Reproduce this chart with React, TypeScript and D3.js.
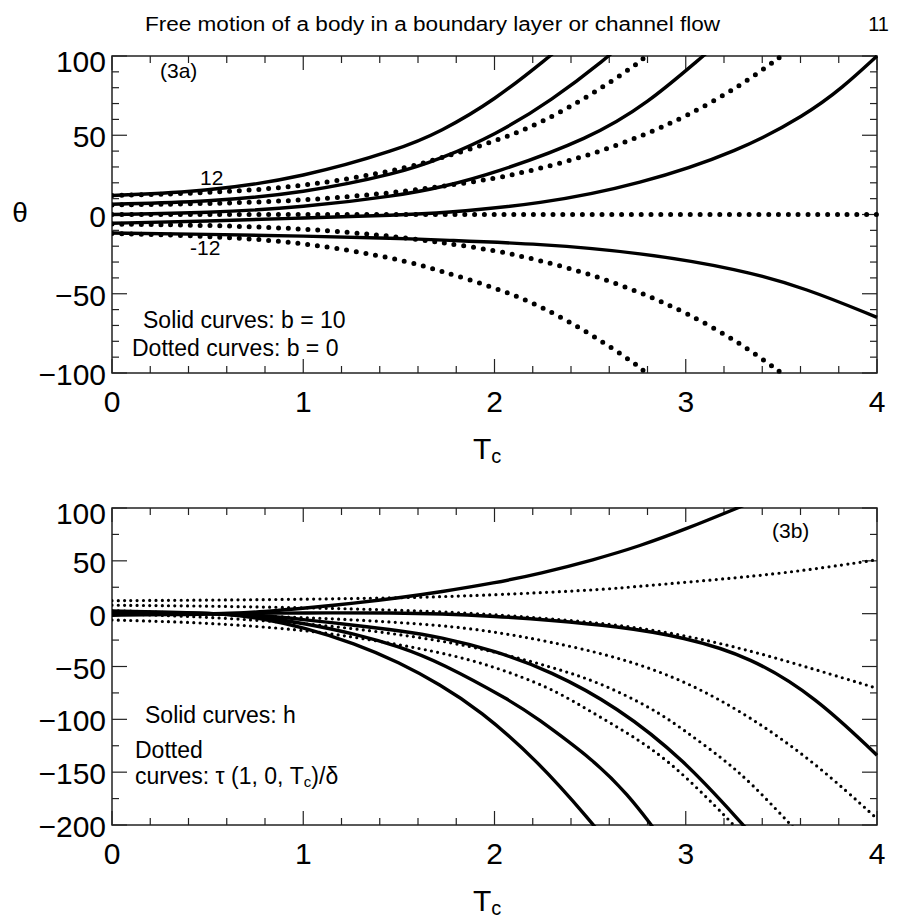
import React from "react";
import * as d3 from "d3";

// page geometry (reference is 911 x 918)
const W = 911;
const H = 918;
const LEFT = 112;
const RIGHT = 877;
const FONT = "'Liberation Sans', Arial, Helvetica, sans-serif";

// shared x axis (T_c)
const xDomain = [0, 4];
const xMajorTicks = [0, 1, 2, 3, 4];
const xTickLabels = ["0", "1", "2", "3", "4"];

// ---- panel (3a): theta vs Tc, solid b = 10, dotted b = 0 ----
const yDomainA = [-100, 100];
const yMajorA = [100, 50, 0, -50, -100];
const yLabelsA = ["100", "50", "0", "\u221250", "\u2212100"];

const solidA_p12 = [[0, 12], [0.5, 14.5], [1, 23.5], [1.5, 41], [1.715, 52], [2, 72], [2.29, 100], [2.35, 106]];
const solidA_p6 = [[0, 6.5], [0.5, 8], [1, 13.5], [1.5, 26], [1.715, 35], [2, 50], [2.3, 72], [2.6, 100], [2.65, 106]];
const solidA_0 = [[0, 0], [0.5, 1], [1, 4.5], [1.5, 12], [1.715, 17], [2, 26], [2.5, 48], [2.8, 70], [3.09, 100], [3.15, 106]];
const solidA_m6 = [[0, -5.5], [0.5, -4.2], [1, -2.2], [1.5, -0.3], [1.715, 0.8], [2.24, 6.5], [2.76, 19], [3.28, 40], [3.63, 63], [3.82, 80], [4, 100]];
const solidA_m12 = [[0, -11.7], [0.5, -12.5], [1, -13.6], [1.5, -15], [1.715, -16.1], [2.24, -18.5], [2.76, -24], [3.28, -34.5], [3.63, -46.6], [4, -64.9]];

const dotA_p12 = [[0, 12], [0.5, 13.5], [1, 17.5], [1.5, 28], [1.715, 35.5], [2, 46], [2.24, 57.5], [2.5, 75], [2.76, 96], [2.8, 101]];
const dotA_p6 = [[0, 6], [0.5, 6.8], [1, 8.7], [1.5, 14], [1.715, 17.6], [2, 22.5], [2.24, 29], [2.5, 37.5], [2.76, 49], [3, 61.7], [3.28, 80.6], [3.5, 100]];
const dotA_0 = [[0, 0], [1, 0], [2, 0], [3, 0], [4, 0]];
const dotA_m6 = [[0, -6], [0.5, -6.8], [1, -8.7], [1.5, -14], [1.715, -17.6], [2, -22.5], [2.24, -29], [2.5, -37.5], [2.76, -49], [3, -61.7], [3.28, -80.6], [3.5, -100]];
const dotA_m12 = [[0, -12], [0.5, -13.5], [1, -17.5], [1.5, -28], [1.715, -35.5], [2, -46], [2.24, -57.5], [2.5, -75], [2.76, -96], [2.8, -101]];

// ---- panel (3b): solid h, dotted tau(1,0,Tc)/delta ----
const yDomainB = [-200, 100];
const yMajorB = [100, 50, 0, -50, -100, -150, -200];
const yLabelsB = ["100", "50", "0", "\u221250", "\u2212100", "\u2212150", "\u2212200"];

const solidB_1 = [[0, -1.5], [0.3, -1], [0.6, 0], [0.8, 2], [1, 5], [1.27, 10], [1.5, 15], [1.715, 20.5], [2, 29], [2.24, 38], [2.52, 51], [2.76, 64], [3, 80], [3.27, 100], [3.35, 106]];
const solidB_2 = [[0, -0.5], [0.6, 0], [1, 0.8], [1.5, 0.8], [1.715, 0], [2, -2.5], [2.29, -6], [2.64, -12], [2.99, -22], [3.34, -41], [3.68, -79], [4, -134]];
const solidB_3 = [[0, 0.5], [0.3, 0.5], [0.6, 0], [0.8, -2], [1, -5.5], [1.27, -11], [1.5, -16], [1.715, -22], [2, -35], [2.29, -54], [2.64, -88], [2.99, -138], [3.3, -200], [3.35, -210]];
const solidB_4 = [[0, 1.5], [0.3, 1], [0.6, 0], [0.8, -3.5], [1, -9], [1.27, -19], [1.5, -31], [1.715, -46], [2.1, -84], [2.2, -96], [2.53, -140], [2.7, -172], [2.82, -200], [2.86, -210]];
const solidB_5 = [[0, 2.5], [0.3, 1.5], [0.6, 0], [0.8, -5], [1, -13], [1.27, -28], [1.5, -46], [1.715, -67], [1.92, -91], [2.22, -138], [2.52, -200], [2.56, -210]];

const dotB_1 = [[0, 12.3], [0.5, 12.8], [1, 13.6], [1.5, 15], [1.715, 16], [2, 17.8], [2.55, 22.5], [2.76, 26], [3.28, 34], [3.63, 41], [4, 51]];
const dotB_2 = [[0, 8], [0.5, 7.2], [0.98, 5.7], [1.27, 4.5], [1.715, 2], [2, -1], [2.29, -4.7], [2.64, -10.4], [2.99, -20], [3.34, -35], [3.68, -53], [4, -70.6]];
const dotB_3 = [[0, 3], [0.5, -0.5], [0.98, -3.5], [1.27, -5.8], [1.715, -10.7], [2, -17], [2.29, -26.5], [2.64, -40.7], [2.99, -62.7], [3.34, -97.5], [3.68, -141.6], [4, -194]];
const dotB_4 = [[0, 0], [0.5, -3], [0.98, -9], [1.27, -14], [1.715, -25], [2, -36], [2.29, -50], [2.55, -65], [2.83, -90], [2.99, -110], [3.2, -138], [3.34, -160], [3.53, -196], [3.56, -202]];
const dotB_5 = [[0, -6], [0.5, -8.5], [0.98, -15], [1.27, -22], [1.715, -36], [2, -50], [2.29, -70], [2.46, -88], [2.64, -107], [2.81, -126], [2.99, -152], [3.23, -196], [3.25, -200]];

function Panel(props) {
  const { id, top, bottom, yDomain, yMajor, yLabels, yMinorStep, solids, dots, dotW, dotGap } = props;
  const x = d3.scaleLinear().domain(xDomain).range([LEFT, RIGHT]);
  const y = d3.scaleLinear().domain(yDomain).range([bottom, top]);
  // basis spline smooths out the small jitter of the hand-read points
  const line = d3.line().x((d) => x(d[0])).y((d) => y(d[1])).curve(d3.curveBasis);

  const xMinor = d3.range(xDomain[0], xDomain[1] + 1e-9, 0.2).filter((v) => Math.abs(v - Math.round(v)) > 1e-6);
  const yMinor = d3.range(yDomain[0], yDomain[1] + 1e-9, yMinorStep).filter((v) => Math.abs(v % 50) > 1e-6);
  const tick = { stroke: "#222", strokeWidth: 1.2 };

  return (
    <g>
      <defs>
        <clipPath id={id}>
          <rect x={LEFT} y={top - 1} width={RIGHT - LEFT + 2} height={bottom - top + 2} />
        </clipPath>
      </defs>
      {/* inward ticks on all four sides */}
      {xMajorTicks.map((v) => (
        <g key={"xm" + v}>
          <line x1={x(v)} x2={x(v)} y1={bottom} y2={bottom - 14} {...tick} />
          <line x1={x(v)} x2={x(v)} y1={top} y2={top + 14} {...tick} />
        </g>
      ))}
      {xMinor.map((v) => (
        <g key={"xn" + v}>
          <line x1={x(v)} x2={x(v)} y1={bottom} y2={bottom - 7} {...tick} />
          <line x1={x(v)} x2={x(v)} y1={top} y2={top + 7} {...tick} />
        </g>
      ))}
      {yMajor.map((v) => (
        <g key={"ym" + v}>
          <line x1={LEFT} x2={LEFT + 15} y1={y(v)} y2={y(v)} {...tick} />
          <line x1={RIGHT} x2={RIGHT - 15} y1={y(v)} y2={y(v)} {...tick} />
        </g>
      ))}
      {yMinor.map((v) => (
        <g key={"yn" + v}>
          <line x1={LEFT} x2={LEFT + 7} y1={y(v)} y2={y(v)} {...tick} />
          <line x1={RIGHT} x2={RIGHT - 7} y1={y(v)} y2={y(v)} {...tick} />
        </g>
      ))}
      <rect x={LEFT} y={top} width={RIGHT - LEFT} height={bottom - top} fill="none" stroke="#222" strokeWidth={1.5} />

      <g clipPath={`url(#${id})`}>
        {solids.map((s, i) => (
          <path key={"s" + i} d={line(s)} fill="none" stroke="#000" strokeWidth={3.4} />
        ))}
        {dots.map((s, i) => (
          <path key={"d" + i} d={line(s)} fill="none" stroke="#000" strokeWidth={dotW}
            strokeLinecap="round" strokeDasharray={`0 ${dotGap}`} />
        ))}
      </g>

      {yMajor.map((v, i) => (
        <text key={"yl" + v} x={LEFT - 6} y={y(v) + (i === 0 ? 15.5 : 12)} textAnchor="end" fontSize={30}>
          {yLabels[i]}
        </text>
      ))}
      {xMajorTicks.map((v, i) => (
        <text key={"xl" + v} x={x(v)} y={bottom + 38.5} textAnchor="middle" fontSize={30}>
          {xTickLabels[i]}
        </text>
      ))}
      <text x={473} y={bottom + 85.5} fontSize={30}>
        T<tspan fontSize={20} dy={4}>c</tspan>
      </text>
    </g>
  );
}

export default function App() {
  return (
    <svg width={W} height={H} style={{ position: "absolute", left: 0, top: 0, background: "#fff" }}
      fontFamily={FONT} fill="#000">
      <text x={145} y={31} fontSize={20} textLength={575} lengthAdjust="spacingAndGlyphs">
        Free motion of a body in a boundary layer or channel flow
      </text>
      <text x={889} y={31} fontSize={20} textAnchor="end">11</text>

      <Panel id="clipA" top={56} bottom={373} yDomain={yDomainA} yMajor={yMajorA} yLabels={yLabelsA}
        yMinorStep={10} solids={[solidA_p12, solidA_p6, solidA_0, solidA_m6, solidA_m12]}
        dots={[dotA_p12, dotA_p6, dotA_0, dotA_m6, dotA_m12]} dotW={5} dotGap={9.8} />
      <text x={20} y={222} fontSize={28} textAnchor="middle">θ</text>
      <text x={160} y={77.5} fontSize={21}>(3a)</text>
      <text x={200} y={185} fontSize={21}>12</text>
      <text x={190} y={255} fontSize={21}>-12</text>
      <text x={143} y={328} fontSize={23}>Solid curves: b = 10</text>
      <text x={132} y={356} fontSize={23}>Dotted curves: b = 0</text>

      <Panel id="clipB" top={508} bottom={825} yDomain={yDomainB} yMajor={yMajorB} yLabels={yLabelsB}
        yMinorStep={25} solids={[solidB_1, solidB_2, solidB_3, solidB_4, solidB_5]}
        dots={[dotB_1, dotB_2, dotB_3, dotB_4, dotB_5]} dotW={3.2} dotGap={6.3} />
      <text x={772} y={537.5} fontSize={21}>(3b)</text>
      <text x={145} y={723} fontSize={23}>Solid curves: h</text>
      <text x={135} y={758} fontSize={23}>Dotted</text>
      <text x={135} y={784} fontSize={23}>
        curves: τ (1, 0, T<tspan fontSize={15} dy={3}>c</tspan><tspan dy={-3}>)/δ</tspan>
      </text>
    </svg>
  );
}
